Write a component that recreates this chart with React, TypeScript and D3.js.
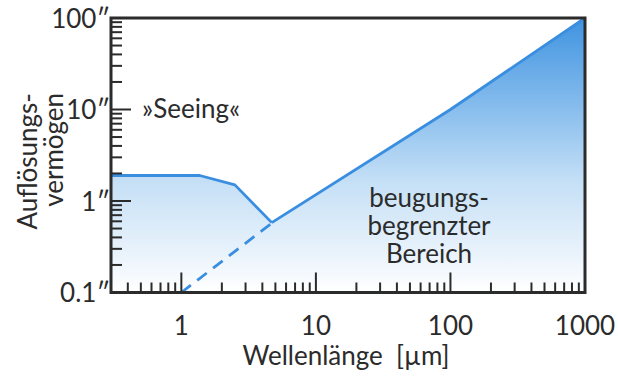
import React from "react";
import * as d3 from "d3";

// Wavelength axis (µm) and angular resolution axis (arcseconds)
const xTickValues = [1, 10, 100, 1000];
const xTickLabels = ["1", "10", "100", "1000"];
const yTickValues = [0.1, 1, 10, 100];
const yTickLabels = ["0.1″", "1″", "10″", "100″"];

// Seeing-limited plateau that drops into the diffraction limit
const seeingLambda = [0.3, 1.37, 2.5, 4.7];
const seeingTheta = [1.9, 1.9, 1.5, 0.58];

// Diffraction limit (solid where it dominates)
const diffLambda = [4.7, 100, 1000];
const diffTheta = [0.58, 10, 100];

// Diffraction limit continued below the seeing curve (dashed)
const dashLambda = [1, 4.6];
const dashTheta = [0.1, 0.56];

// Region label, one entry per line
const regionLines = ["beugungs-", "begrenzter", "Bereich"];

const W = 618;
const H = 376;
const left = 111;
const right = 585;
const top = 18;
const bottom = 292.5;

const FONT = "Lato, 'Open Sans', sans-serif";
const INK = "#2b2b2b";
const BLUE = "#3a8ee0";

export default function App() {
  const x = d3.scaleLog().domain([0.3, 1000]).range([left, right]);
  const y = d3.scaleLog().domain([0.1, 100]).range([bottom, top]);

  const zip = (a: number[], b: number[]) => a.map((v, i) => [v, b[i]] as [number, number]);
  const seeing = zip(seeingLambda, seeingTheta);
  const diff = zip(diffLambda, diffTheta);
  const dashed = zip(dashLambda, dashTheta);
  const envelope = [...seeing, ...diff.slice(1)];

  const line = d3
    .line<[number, number]>()
    .x((d) => x(d[0]))
    .y((d) => y(d[1]));
  const area = d3
    .area<[number, number]>()
    .x((d) => x(d[0]))
    .y0(bottom)
    .y1((d) => y(d[1]));

  const isDecade = (v: number) => Math.abs(Math.log10(v) - Math.round(Math.log10(v))) < 1e-6;
  const xTicks = x.ticks().filter((v) => x(v) > left + 2 && x(v) < right - 2);
  const yTicks = y.ticks().filter((v) => y(v) < bottom - 2 && y(v) > top + 2);

  return (
    <svg
      width={W}
      height={H}
      viewBox={`0 0 ${W} ${H}`}
      style={{ position: "absolute", left: 0, top: 0, background: "#fff" }}
    >
      <defs>
        <linearGradient id="fillGrad" gradientUnits="userSpaceOnUse" x1={0} y1={top} x2={0} y2={bottom}>
          <stop offset="0" stopColor="#3f93e0" />
          <stop offset="0.35" stopColor="#8cc0ee" />
          <stop offset="0.6" stopColor="#c6e0f6" />
          <stop offset="0.85" stopColor="#e8f2fb" />
          <stop offset="1" stopColor="#ffffff" />
        </linearGradient>
      </defs>

      <path d={area(envelope) ?? ""} fill="url(#fillGrad)" />

      <path d={line(seeing) ?? ""} fill="none" stroke={BLUE} strokeWidth={2.8} strokeLinejoin="round" />
      <path d={line(diff) ?? ""} fill="none" stroke={BLUE} strokeWidth={2.8} strokeLinejoin="round" />
      <path d={line(dashed) ?? ""} fill="none" stroke={BLUE} strokeWidth={2.8} strokeDasharray="12,8" />

      {/* x ticks, pointing inward */}
      {xTicks.map((v, i) => (
        <line
          key={`xt${i}`}
          x1={x(v)}
          x2={x(v)}
          y1={bottom}
          y2={bottom - (isDecade(v) ? 20 : 10)}
          stroke={INK}
          strokeWidth={2}
        />
      ))}
      {/* y ticks, pointing inward */}
      {yTicks.map((v, i) => (
        <line
          key={`yt${i}`}
          x1={left}
          x2={left + (isDecade(v) ? 20 : 11)}
          y1={y(v)}
          y2={y(v)}
          stroke={INK}
          strokeWidth={2}
        />
      ))}

      <rect
        x={left}
        y={top}
        width={right - left}
        height={bottom - top}
        fill="none"
        stroke={INK}
        strokeWidth={3}
      />

      <g fontFamily={FONT} fontSize={26} fill={INK}>
        {xTickValues.map((v, i) => (
          <text key={`xl${i}`} x={x(v)} y={335} textAnchor="middle">
            {xTickLabels[i]}
          </text>
        ))}
        {yTickValues.map((v, i) => (
          <text key={`yl${i}`} x={110} y={y(v) + 9.5} textAnchor="end">
            {yTickLabels[i]}
          </text>
        ))}

        <text x={346} y={365} textAnchor="middle">
          {"Wellenlänge\u00A0\u00A0[µm]"}
        </text>

        <text transform="translate(37,93) rotate(-90)" textAnchor="end">
          Auflösungs-
        </text>
        <text transform="translate(63,93) rotate(-90)" textAnchor="end">
          vermögen
        </text>

        <text x={142} y={118}>»Seeing«</text>

        <text x={429} y={207} textAnchor="middle">
          {regionLines.map((s, i) => (
            <tspan key={s} x={429} dy={i === 0 ? 0 : 28}>
              {s}
            </tspan>
          ))}
        </text>
      </g>
    </svg>
  );
}
